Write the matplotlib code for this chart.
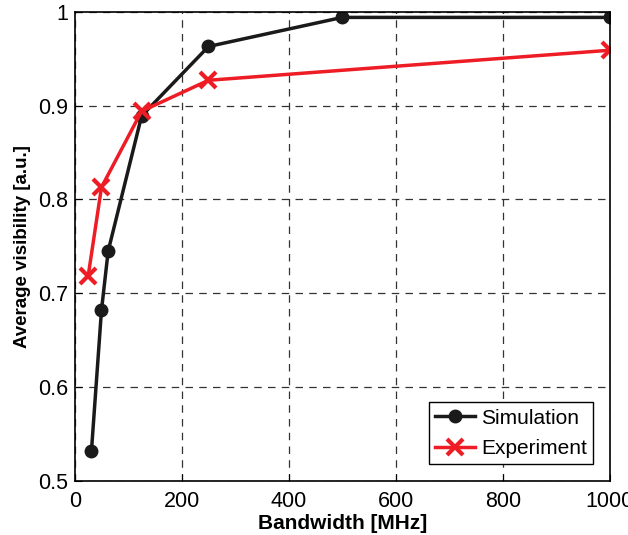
import matplotlib
matplotlib.use('Agg')
import matplotlib.pyplot as plt

plt.rcParams['font.family'] = ['Liberation Sans', 'DejaVu Sans']

# Simulation data
sim_bw = [31.25, 50, 62.5, 125, 250, 500, 1000]
sim_vis = [0.532, 0.682, 0.745, 0.889, 0.963, 0.994, 0.994]

# Experiment data
exp_bw = [25, 50, 125, 250, 1000]
exp_vis = [0.718, 0.813, 0.894, 0.927, 0.959]

fig = plt.figure(figsize=(6.28, 5.35), dpi=100)
ax = fig.add_axes([0.119, 0.101, 0.852, 0.877])

ax.plot(sim_bw, sim_vis, color='#1a1a1a', lw=2.5, marker='o', ms=9, label='Simulation')
ax.plot(exp_bw, exp_vis, color='#ee1c24', lw=2.5, marker='x', ms=11, mew=3, label='Experiment')

ax.set_xlim(0, 1000)
ax.set_ylim(0.5, 1)
ax.set_xticks([0, 200, 400, 600, 800, 1000])
ax.set_yticks([0.5, 0.6, 0.7, 0.8, 0.9, 1])
ax.set_yticklabels(['0.5', '0.6', '0.7', '0.8', '0.9', '1'])
ax.tick_params(labelsize=15.5, direction='in', length=5)
ax.tick_params(axis='x', pad=7)
ax.tick_params(axis='y', pad=5)
ax.grid(True, color='#333333', linestyle=(0, (6, 5)), lw=0.9)
for s in ax.spines.values():
    s.set_linewidth(1.2)

ax.set_xlabel('Bandwidth [MHz]', fontsize=15, fontweight='bold', labelpad=2)
ax.set_ylabel('Average visibility [a.u.]', fontsize=13.5, fontweight='bold', labelpad=5)

leg = ax.legend(loc='lower right', fontsize=15, fancybox=False, framealpha=1,
                edgecolor='black', handlelength=1.9, handletextpad=0.3,
                borderaxespad=0.8, labelspacing=0.55, borderpad=0.3)
leg.get_frame().set_linewidth(1.0)

fig.savefig('out.png', dpi=100)
